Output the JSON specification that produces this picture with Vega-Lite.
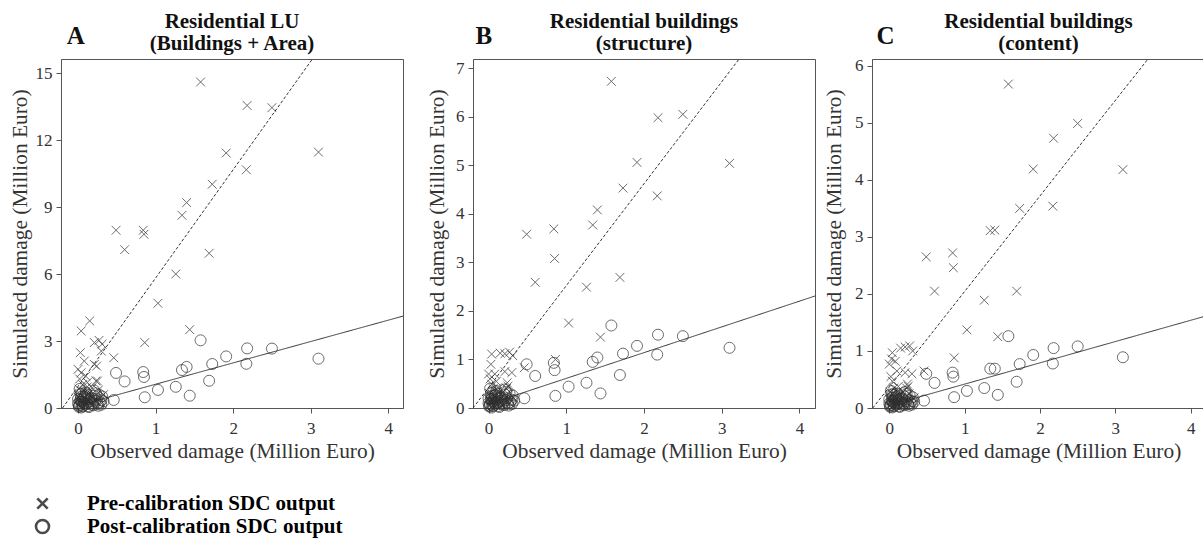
{
  "$schema": "https://vega.github.io/schema/vega-lite/v6.json",
  "background": "white",
  "padding": {"left": 8, "top": 10, "right": 0, "bottom": 0},
  "datasets": {
    "A": [
      {"obs": 0.49, "pre": 7.96, "post": 1.57}, {"obs": 0.46, "pre": 2.25, "post": 0.36},
      {"obs": 0.60, "pre": 7.09, "post": 1.19}, {"obs": 0.84, "pre": 7.96, "post": 1.61},
      {"obs": 0.85, "pre": 7.78, "post": 1.39}, {"obs": 0.86, "pre": 2.93, "post": 0.48},
      {"obs": 1.03, "pre": 4.69, "post": 0.81}, {"obs": 1.26, "pre": 6.00, "post": 0.95},
      {"obs": 1.34, "pre": 8.63, "post": 1.70}, {"obs": 1.40, "pre": 9.20, "post": 1.84},
      {"obs": 1.44, "pre": 3.51, "post": 0.55}, {"obs": 1.58, "pre": 14.6, "post": 3.03},
      {"obs": 1.69, "pre": 6.93, "post": 1.22}, {"obs": 1.73, "pre": 10.02, "post": 1.97},
      {"obs": 1.91, "pre": 11.42, "post": 2.31}, {"obs": 2.17, "pre": 10.67, "post": 1.98},
      {"obs": 2.18, "pre": 13.55, "post": 2.67}, {"obs": 2.50, "pre": 13.45, "post": 2.66},
      {"obs": 3.10, "pre": 11.46, "post": 2.21},
      {"obs": 0.15, "pre": 3.90, "post": 0.42}, {"obs": 0.04, "pre": 3.45, "post": 0.30},
      {"obs": 0.21, "pre": 2.93, "post": 0.55}, {"obs": 0.27, "pre": 3.03, "post": 0.60},
      {"obs": 0.31, "pre": 2.86, "post": 0.52}, {"obs": 0.30, "pre": 2.55, "post": 0.35},
      {"obs": 0.03, "pre": 2.48, "post": 0.62}, {"obs": 0.08, "pre": 2.10, "post": 0.25},
      {"obs": 0.24, "pre": 1.88, "post": 0.40}, {"obs": 0.21, "pre": 1.95, "post": 0.78},
      {"obs": 0.00, "pre": 1.73, "post": 0.20}, {"obs": 0.04, "pre": 1.58, "post": 0.50},
      {"obs": 0.10, "pre": 1.43, "post": 0.70}, {"obs": 0.25, "pre": 1.21, "post": 0.18},
      {"obs": 0.23, "pre": 1.21, "post": 0.66}, {"obs": 0.02, "pre": 1.30, "post": 0.85},
      {"obs": 0.06, "pre": 1.05, "post": 0.10}, {"obs": 0.12, "pre": 0.95, "post": 0.38},
      {"obs": 0.18, "pre": 0.90, "post": 0.15}, {"obs": 0.01, "pre": 0.85, "post": 0.05},
      {"obs": 0.05, "pre": 0.75, "post": 0.28}, {"obs": 0.09, "pre": 0.70, "post": 0.55},
      {"obs": 0.13, "pre": 0.62, "post": 0.08}, {"obs": 0.16, "pre": 0.55, "post": 0.30},
      {"obs": 0.20, "pre": 0.50, "post": 0.12}, {"obs": 0.28, "pre": 0.45, "post": 0.25},
      {"obs": 0.02, "pre": 0.42, "post": 0.15}, {"obs": 0.07, "pre": 0.38, "post": 0.40},
      {"obs": 0.11, "pre": 0.33, "post": 0.20}, {"obs": 0.14, "pre": 0.30, "post": 0.04},
      {"obs": 0.03, "pre": 0.25, "post": 0.35}, {"obs": 0.06, "pre": 0.20, "post": 0.07},
      {"obs": 0.17, "pre": 0.18, "post": 0.45}, {"obs": 0.19, "pre": 0.15, "post": 0.22},
      {"obs": 0.01, "pre": 0.12, "post": 0.10}, {"obs": 0.09, "pre": 0.10, "post": 0.15},
      {"obs": 0.04, "pre": 0.08, "post": 0.02}, {"obs": 0.33, "pre": 0.60, "post": 0.30},
      {"obs": 0.26, "pre": 0.80, "post": 0.10}, {"obs": 0.12, "pre": 1.15, "post": 0.60},
      {"obs": 0.05, "pre": 0.55, "post": 0.65}, {"obs": 0.08, "pre": 0.28, "post": 0.50},
      {"obs": 0.22, "pre": 0.35, "post": 0.33}, {"obs": 0.00, "pre": 0.50, "post": 0.40},
      {"obs": 0.30, "pre": 0.20, "post": 0.15}
    ],
    "B": [
      {"obs": 0.49, "pre": 3.58, "post": 0.90}, {"obs": 0.46, "pre": 0.83, "post": 0.20},
      {"obs": 0.60, "pre": 2.59, "post": 0.66}, {"obs": 0.84, "pre": 3.69, "post": 0.93},
      {"obs": 0.85, "pre": 3.08, "post": 0.78}, {"obs": 0.86, "pre": 1.00, "post": 0.25},
      {"obs": 1.03, "pre": 1.75, "post": 0.44}, {"obs": 1.26, "pre": 2.49, "post": 0.52},
      {"obs": 1.34, "pre": 3.77, "post": 0.95}, {"obs": 1.40, "pre": 4.08, "post": 1.04},
      {"obs": 1.44, "pre": 1.46, "post": 0.30}, {"obs": 1.58, "pre": 6.73, "post": 1.70},
      {"obs": 1.69, "pre": 2.69, "post": 0.68}, {"obs": 1.73, "pre": 4.53, "post": 1.12},
      {"obs": 1.91, "pre": 5.06, "post": 1.28}, {"obs": 2.17, "pre": 4.37, "post": 1.10},
      {"obs": 2.18, "pre": 5.98, "post": 1.51}, {"obs": 2.50, "pre": 6.05, "post": 1.48},
      {"obs": 3.10, "pre": 5.04, "post": 1.24},
      {"obs": 0.15, "pre": 1.13, "post": 0.22}, {"obs": 0.04, "pre": 1.11, "post": 0.18},
      {"obs": 0.21, "pre": 1.12, "post": 0.28}, {"obs": 0.27, "pre": 1.15, "post": 0.30},
      {"obs": 0.31, "pre": 1.08, "post": 0.26}, {"obs": 0.30, "pre": 0.73, "post": 0.17},
      {"obs": 0.03, "pre": 0.90, "post": 0.30}, {"obs": 0.08, "pre": 0.70, "post": 0.12},
      {"obs": 0.24, "pre": 0.52, "post": 0.20}, {"obs": 0.21, "pre": 0.75, "post": 0.38},
      {"obs": 0.00, "pre": 0.70, "post": 0.10}, {"obs": 0.04, "pre": 0.49, "post": 0.25},
      {"obs": 0.10, "pre": 0.55, "post": 0.35}, {"obs": 0.25, "pre": 0.45, "post": 0.09},
      {"obs": 0.23, "pre": 0.40, "post": 0.33}, {"obs": 0.02, "pre": 0.60, "post": 0.40},
      {"obs": 0.06, "pre": 0.40, "post": 0.05}, {"obs": 0.12, "pre": 0.35, "post": 0.19},
      {"obs": 0.18, "pre": 0.32, "post": 0.08}, {"obs": 0.01, "pre": 0.30, "post": 0.03},
      {"obs": 0.05, "pre": 0.28, "post": 0.14}, {"obs": 0.09, "pre": 0.25, "post": 0.27},
      {"obs": 0.13, "pre": 0.22, "post": 0.04}, {"obs": 0.16, "pre": 0.20, "post": 0.15},
      {"obs": 0.20, "pre": 0.18, "post": 0.06}, {"obs": 0.28, "pre": 0.16, "post": 0.12},
      {"obs": 0.02, "pre": 0.15, "post": 0.08}, {"obs": 0.07, "pre": 0.14, "post": 0.20},
      {"obs": 0.11, "pre": 0.12, "post": 0.10}, {"obs": 0.14, "pre": 0.11, "post": 0.02},
      {"obs": 0.03, "pre": 0.09, "post": 0.18}, {"obs": 0.06, "pre": 0.07, "post": 0.04},
      {"obs": 0.17, "pre": 0.06, "post": 0.22}, {"obs": 0.19, "pre": 0.05, "post": 0.11},
      {"obs": 0.01, "pre": 0.04, "post": 0.05}, {"obs": 0.09, "pre": 0.04, "post": 0.08},
      {"obs": 0.04, "pre": 0.03, "post": 0.01}, {"obs": 0.33, "pre": 0.20, "post": 0.15},
      {"obs": 0.26, "pre": 0.28, "post": 0.05}, {"obs": 0.12, "pre": 0.42, "post": 0.30},
      {"obs": 0.05, "pre": 0.20, "post": 0.32}, {"obs": 0.08, "pre": 0.10, "post": 0.25},
      {"obs": 0.22, "pre": 0.12, "post": 0.16}, {"obs": 0.00, "pre": 0.18, "post": 0.20},
      {"obs": 0.30, "pre": 0.07, "post": 0.08}
    ],
    "C": [
      {"obs": 0.49, "pre": 2.65, "post": 0.60}, {"obs": 0.46, "pre": 0.65, "post": 0.13},
      {"obs": 0.60, "pre": 2.05, "post": 0.44}, {"obs": 0.84, "pre": 2.72, "post": 0.62},
      {"obs": 0.85, "pre": 2.46, "post": 0.55}, {"obs": 0.86, "pre": 0.88, "post": 0.19},
      {"obs": 1.03, "pre": 1.37, "post": 0.30}, {"obs": 1.26, "pre": 1.89, "post": 0.35},
      {"obs": 1.34, "pre": 3.11, "post": 0.69}, {"obs": 1.40, "pre": 3.12, "post": 0.69},
      {"obs": 1.44, "pre": 1.25, "post": 0.23}, {"obs": 1.58, "pre": 5.68, "post": 1.26},
      {"obs": 1.69, "pre": 2.05, "post": 0.46}, {"obs": 1.73, "pre": 3.50, "post": 0.77},
      {"obs": 1.91, "pre": 4.19, "post": 0.93}, {"obs": 2.17, "pre": 3.54, "post": 0.78},
      {"obs": 2.18, "pre": 4.73, "post": 1.05}, {"obs": 2.50, "pre": 4.99, "post": 1.08},
      {"obs": 3.10, "pre": 4.18, "post": 0.89},
      {"obs": 0.15, "pre": 1.05, "post": 0.16}, {"obs": 0.04, "pre": 0.97, "post": 0.12},
      {"obs": 0.21, "pre": 1.07, "post": 0.20}, {"obs": 0.27, "pre": 1.09, "post": 0.22},
      {"obs": 0.31, "pre": 1.00, "post": 0.19}, {"obs": 0.30, "pre": 0.60, "post": 0.12},
      {"obs": 0.03, "pre": 0.86, "post": 0.24}, {"obs": 0.08, "pre": 0.82, "post": 0.10},
      {"obs": 0.24, "pre": 0.42, "post": 0.15}, {"obs": 0.21, "pre": 0.62, "post": 0.28},
      {"obs": 0.00, "pre": 0.77, "post": 0.08}, {"obs": 0.04, "pre": 0.47, "post": 0.18},
      {"obs": 0.10, "pre": 0.65, "post": 0.25}, {"obs": 0.25, "pre": 0.38, "post": 0.07},
      {"obs": 0.23, "pre": 0.35, "post": 0.25}, {"obs": 0.02, "pre": 0.55, "post": 0.30},
      {"obs": 0.06, "pre": 0.35, "post": 0.04}, {"obs": 0.12, "pre": 0.30, "post": 0.14},
      {"obs": 0.18, "pre": 0.28, "post": 0.06}, {"obs": 0.01, "pre": 0.28, "post": 0.02},
      {"obs": 0.05, "pre": 0.25, "post": 0.10}, {"obs": 0.09, "pre": 0.22, "post": 0.20},
      {"obs": 0.13, "pre": 0.20, "post": 0.03}, {"obs": 0.16, "pre": 0.18, "post": 0.11},
      {"obs": 0.20, "pre": 0.16, "post": 0.05}, {"obs": 0.28, "pre": 0.14, "post": 0.09},
      {"obs": 0.02, "pre": 0.13, "post": 0.06}, {"obs": 0.07, "pre": 0.12, "post": 0.15},
      {"obs": 0.11, "pre": 0.10, "post": 0.07}, {"obs": 0.14, "pre": 0.09, "post": 0.02},
      {"obs": 0.03, "pre": 0.08, "post": 0.13}, {"obs": 0.06, "pre": 0.06, "post": 0.03},
      {"obs": 0.17, "pre": 0.05, "post": 0.17}, {"obs": 0.19, "pre": 0.05, "post": 0.08},
      {"obs": 0.01, "pre": 0.04, "post": 0.04}, {"obs": 0.09, "pre": 0.03, "post": 0.06},
      {"obs": 0.04, "pre": 0.02, "post": 0.01}, {"obs": 0.33, "pre": 0.18, "post": 0.11},
      {"obs": 0.26, "pre": 0.25, "post": 0.04}, {"obs": 0.12, "pre": 0.38, "post": 0.22},
      {"obs": 0.05, "pre": 0.18, "post": 0.24}, {"obs": 0.08, "pre": 0.09, "post": 0.18},
      {"obs": 0.22, "pre": 0.11, "post": 0.12}, {"obs": 0.00, "pre": 0.16, "post": 0.15},
      {"obs": 0.30, "pre": 0.06, "post": 0.06}
    ],
    "fitA": [
      {"fit": "dashed", "x": -0.2, "y": 0}, {"fit": "dashed", "x": 3.3, "y": 16.98},
      {"fit": "solid", "x": 0, "y": 0.107}, {"fit": "solid", "x": 4.3, "y": 4.22}
    ],
    "fitB": [
      {"fit": "dashed", "x": -0.2, "y": 0}, {"fit": "dashed", "x": 3.4, "y": 7.56},
      {"fit": "solid", "x": 0, "y": 0.08}, {"fit": "solid", "x": 4.3, "y": 2.36}
    ],
    "fitC": [
      {"fit": "dashed", "x": -0.22, "y": 0}, {"fit": "dashed", "x": 3.6, "y": 6.40},
      {"fit": "solid", "x": 0, "y": 0.046}, {"fit": "solid", "x": 4.3, "y": 1.65}
    ]
  },
  "spacing": 22,
  "hconcat": [
    {
      "width": 342,
      "height": 349,
      "title": {"text": ["Residential LU", "(Buildings + Area)"]},
      "layer": [
        {
          "data": {"name": "fitA"},
          "mark": {"type": "line", "clip": true, "color": "#333", "strokeWidth": 1},
          "encoding": {
            "x": {"field": "x", "type": "quantitative", "scale": {"domain": [-0.22, 4.19], "nice": false, "zero": false}, "axis": {"values": [0, 1, 2, 3, 4], "format": "d", "title": "Observed damage (Million Euro)"}},
            "y": {"field": "y", "type": "quantitative", "scale": {"domain": [0, 15.63], "nice": false}, "axis": {"values": [0, 3, 6, 9, 12, 15], "format": "d", "titlePadding": 5, "title": "Simulated damage (Million Euro)"}},
            "strokeDash": {"field": "fit", "type": "nominal", "scale": {"domain": ["dashed", "solid"], "range": [[3, 2], [1, 0]]}, "legend": null}
          }
        },
        {
          "data": {"name": "A"},
          "transform": [{"fold": ["pre", "post"], "as": ["series", "sim"]}],
          "mark": {"type": "point", "filled": false, "strokeWidth": 1, "color": "#2e2e2e", "size": 121},
          "encoding": {
            "x": {"field": "obs", "type": "quantitative"},
            "y": {"field": "sim", "type": "quantitative"},
            "shape": {
              "field": "series",
              "type": "nominal",
              "scale": {"domain": ["pre", "post"], "range": ["M-0.8,-0.8L0.8,0.8M-0.8,0.8L0.8,-0.8", "circle"]},
              "legend": {
                "orient": "none",
                "legendX": -29,
                "legendY": 434,
                "direction": "vertical",
                "title": null,
                "symbolSize": 169,
                "symbolStrokeWidth": 2.6,
                "symbolStrokeColor": "#000",
                "labelFont": "Liberation Serif",
                "labelFontSize": 21,
                "labelFontWeight": "bold",
                "labelColor": "#000",
                "labelOffset": 34,
                "labelLimit": 400,
                "rowPadding": 0,
                "labelExpr": "datum.label == 'pre' ? 'Pre-calibration SDC output' : 'Post-calibration SDC output'",
                "encode": {"symbols": {"stroke": {"value": "#000"}, "strokeWidth": {"value": 2.6}}}
              }
            }
          }
        },
        {
          "data": {"values": [{"tag": "A"}]},
          "mark": {"type": "text", "font": "Liberation Serif", "fontWeight": "bold", "fontSize": 25, "baseline": "middle", "align": "center", "color": "#111"},
          "encoding": {"x": {"datum": -0.03}, "y": {"datum": 16.66}, "text": {"field": "tag"}}
        }
      ]
    },
    {
      "spacing": 7,
      "hconcat": [
        {
          "width": 342,
          "height": 349,
          "title": {"text": ["Residential buildings", "(structure)"]},
          "layer": [
            {
              "data": {"name": "fitB"},
              "mark": {"type": "line", "clip": true, "color": "#333", "strokeWidth": 1},
              "encoding": {
                "x": {"field": "x", "type": "quantitative", "scale": {"domain": [-0.2, 4.2], "nice": false, "zero": false}, "axis": {"values": [0, 1, 2, 3, 4], "format": "d", "title": "Observed damage (Million Euro)"}},
                "y": {"field": "y", "type": "quantitative", "scale": {"domain": [0, 7.19], "nice": false}, "axis": {"values": [0, 1, 2, 3, 4, 5, 6, 7], "format": "d", "title": "Simulated damage (Million Euro)"}},
                "strokeDash": {"field": "fit", "type": "nominal", "scale": {"domain": ["dashed", "solid"], "range": [[3, 2], [1, 0]]}, "legend": null}
              }
            },
            {
              "data": {"name": "B"},
              "transform": [{"fold": ["pre", "post"], "as": ["series", "sim"]}],
              "mark": {"type": "point", "filled": false, "strokeWidth": 1, "color": "#2e2e2e", "size": 121},
              "encoding": {
                "x": {"field": "obs", "type": "quantitative"},
                "y": {"field": "sim", "type": "quantitative"},
                "shape": {"field": "series", "type": "nominal", "scale": {"domain": ["pre", "post"], "range": ["M-0.8,-0.8L0.8,0.8M-0.8,0.8L0.8,-0.8", "circle"]}}
              }
            },
            {
              "data": {"values": [{"tag": "B"}]},
              "mark": {"type": "text", "font": "Liberation Serif", "fontWeight": "bold", "fontSize": 25, "baseline": "middle", "align": "center", "color": "#111"},
              "encoding": {"x": {"datum": -0.06}, "y": {"datum": 7.66}, "text": {"field": "tag"}}
            }
          ]
        },
        {
          "width": 333,
          "height": 349,
          "title": {"text": ["Residential buildings", "(content)"]},
          "layer": [
            {
              "data": {"name": "fitC"},
              "mark": {"type": "line", "clip": true, "color": "#333", "strokeWidth": 1},
              "encoding": {
                "x": {"field": "x", "type": "quantitative", "scale": {"domain": [-0.23, 4.19], "nice": false, "zero": false}, "axis": {"values": [0, 1, 2, 3, 4], "format": "d", "title": "Observed damage (Million Euro)"}},
                "y": {"field": "y", "type": "quantitative", "scale": {"domain": [0, 6.12], "nice": false}, "axis": {"values": [0, 1, 2, 3, 4, 5, 6], "format": "d", "titlePadding": 10, "title": "Simulated damage (Million Euro)"}},
                "strokeDash": {"field": "fit", "type": "nominal", "scale": {"domain": ["dashed", "solid"], "range": [[3, 2], [1, 0]]}, "legend": null}
              }
            },
            {
              "data": {"name": "C"},
              "transform": [{"fold": ["pre", "post"], "as": ["series", "sim"]}],
              "mark": {"type": "point", "filled": false, "strokeWidth": 1, "color": "#2e2e2e", "size": 121},
              "encoding": {
                "x": {"field": "obs", "type": "quantitative"},
                "y": {"field": "sim", "type": "quantitative"},
                "shape": {"field": "series", "type": "nominal", "scale": {"domain": ["pre", "post"], "range": ["M-0.8,-0.8L0.8,0.8M-0.8,0.8L0.8,-0.8", "circle"]}}
              }
            },
            {
              "data": {"values": [{"tag": "C"}]},
              "mark": {"type": "text", "font": "Liberation Serif", "fontWeight": "bold", "fontSize": 25, "baseline": "middle", "align": "center", "color": "#111"},
              "encoding": {"x": {"datum": -0.05}, "y": {"datum": 6.53}, "text": {"field": "tag"}}
            }
          ]
        }
      ]
    }
  ],
  "config": {
    "font": "Liberation Serif",
    "view": {"stroke": "#555", "strokeWidth": 1},
    "axis": {
      "grid": false,
      "domainColor": "#555",
      "tickColor": "#555",
      "tickSize": 5,
      "labelFont": "Liberation Serif",
      "labelFontSize": 17,
      "labelColor": "#333",
      "labelPadding": 7,
      "titleFont": "Liberation Serif",
      "titleFontSize": 21.4,
      "titleFontWeight": "normal",
      "titleColor": "#333"
    },
    "axisX": {"titlePadding": 4},
    "axisY": {"titlePadding": 8, "labelPadding": 4},
    "title": {
      "font": "Liberation Serif",
      "fontSize": 21,
      "fontWeight": "bold",
      "color": "#111",
      "lineHeight": 22,
      "anchor": "middle",
      "frame": "group",
      "offset": -30
    }
  }
}
